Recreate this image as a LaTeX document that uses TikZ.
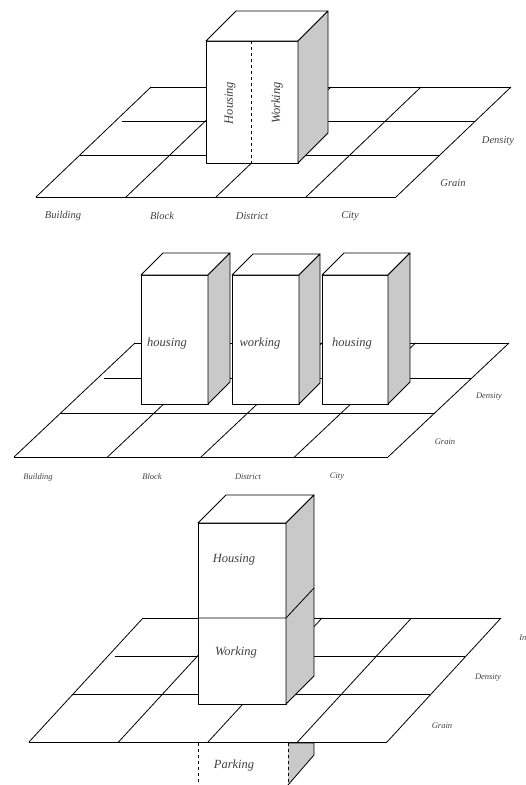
\documentclass[tikz,border=0pt]{standalone}
\usepackage{fontspec}
\setmainfont{Liberation Serif}

% ground plane: front-left x, front y, width, depth x, depth y
\newcommand{\mixplane}[5]{%
  \foreach \f/\s in {0/0,.38/0,.69/7,1/0}
    \draw ({#1+\f*#4+\s},{#2-\f*#5}) -- ++({#3-\s},0);
  \foreach \i in {0,...,4}
    \draw ({#1+\i*#3/4},#2) -- ++(#4,-#5);
}
% block standing on the plane: left, top, right, bottom, depth
\newcommand{\useblock}[5]{%
  \filldraw[fill=white] (#1,#2) rectangle (#3,#4);
  \filldraw[fill=white] (#1,#2) -- ++(#5,-#5) -- ({#3+#5},{#2-#5}) -- (#3,#2) -- cycle;
  \filldraw[fill=sidegray] (#3,#2) -- ++(#5,-#5) -- ({#3+#5},{#4-#5}) -- (#3,#4) -- cycle;
}

\definecolor{sidegray}{HTML}{C9C9C9}

\begin{document}
\begin{tikzpicture}[x=1pt, y=-1pt, line width=0.8pt, line join=round,
    lbl/.style={font=\itshape\fontsize{12.5}{14}\selectfont, text=black!75, inner sep=0pt},
    axis/.style={lbl, font=\itshape\fontsize{10.5}{12}\selectfont},
    tiny/.style={lbl, font=\itshape\fontsize{8.5}{10}\selectfont}]
  \useasboundingbox (0,0) rectangle (526,785);

  % --- mixed block: housing and working side by side
  \mixplane{36}{197}{360}{115}{110}
  \useblock{206}{41}{298}{163}{30}
  \draw[dashed] (251,41) -- (251,163);
  \node[lbl, rotate=90] (house1) at (230,103) {Housing};
  \node[lbl, rotate=90] (work1)  at (277,103) {Working};

  \node[axis] (bld1)  at (63,216)  {Building};
  \node[axis] (blk1)  at (162,216) {Block};
  \node[axis] (dst1)  at (252,216) {District};
  \node[axis] (city1) at (350,216) {City};
  \node[axis] (dens1) at (498,141) {Density};
  \node[axis] (grn1)  at (453,183) {Grain};

  % --- separate blocks in a row
  \mixplane{14}{457}{374}{121}{114}
  \useblock{141}{275}{208}{404}{22}
  \useblock{232}{275}{299}{404}{21}
  \useblock{322}{275}{388}{404}{22}
  \node[lbl] (house2a) at (167,343) {housing};
  \node[lbl] (work2)   at (260,343) {working};
  \node[lbl] (house2b) at (352,343) {housing};

  \node[tiny] (bld2)  at (38,477)  {Building};
  \node[tiny] (blk2)  at (152,477) {Block};
  \node[tiny] (dst2)  at (248,477) {District};
  \node[tiny] (city2) at (337,477) {City};
  \node[tiny] (dens2) at (489,397) {Density};
  \node[tiny] (grn2)  at (445,442) {Grain};

  % --- stacked: housing over working, parking below ground
  \mixplane{29}{742}{358}{114}{124}
  \useblock{198}{523}{286}{704}{28}
  \draw (198,618) -- (286,618) -- ++(28,-30);
  \node[lbl] (house3) at (234,560) {Housing};
  \node[lbl] (work3)  at (236,652) {Working};

  \filldraw[fill=sidegray] (288,743) -- (314,743) -- (314,755) -- (288,785);
  \draw[dashed] (198,743) -- (198,785);
  \draw[dashed] (288,743) -- (288,785);
  \node[lbl] (park3) at (234,765) {Parking};

  \node[tiny] (dens3) at (488,678) {Density};
  \node[tiny] (grn3)  at (442,726) {Grain};
  \node[tiny, anchor=west] (int3) at (519,639) {Intensity};
\end{tikzpicture}
\end{document}
